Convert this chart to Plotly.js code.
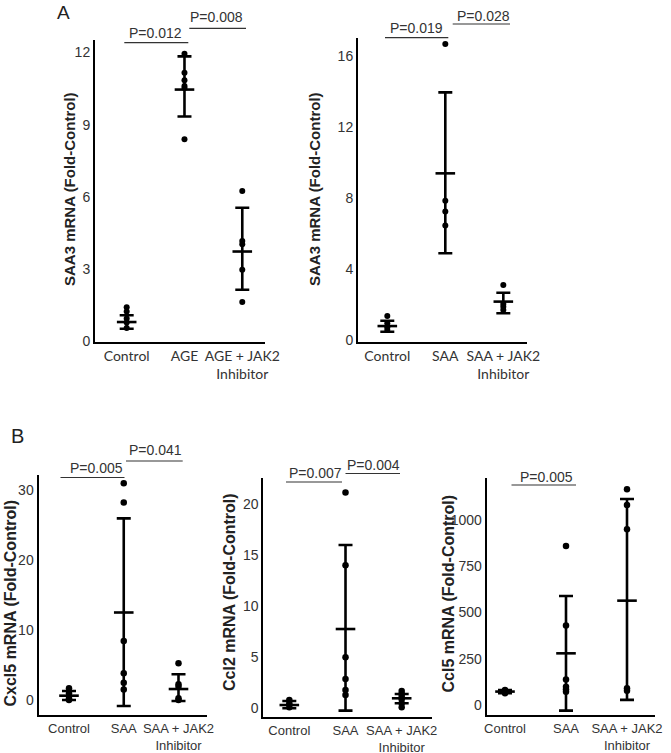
<!DOCTYPE html>
<html>
<head>
<meta charset="utf-8">
<script src="https://cdn.plot.ly/plotly-3.0.1.min.js"></script>
<style>html,body{margin:0;padding:0;background:#fff;}#chart{width:671px;height:753px;}</style>
</head>
<body>
<div id="chart"></div>
<script>
// ---------------- DATA ----------------
// Panel A (left): SAA3 mRNA, AGE
const a1Categories = ["Control", "AGE", "AGE + JAK2<br>Inhibitor"];
const a1Points = [[1.41, 1.24, 0.95, 0.78, 0.55], [11.95, 11.16, 10.85, 10.61, 10.53, 8.40], [6.24, 4.17, 4.03, 2.97, 1.63]];
const a1Mean = [0.80, 10.46, 3.73];
const a1Upper = [1.08, 11.84, 5.55];
const a1Lower = [0.52, 9.34, 2.14];
const a1Ticks = [0, 3, 6, 9, 12];
const a1Title = "SAA3 mRNA (Fold-Control)";
const a1P = ["P=0.012", "P=0.008"];

// Panel A (right): SAA3 mRNA, SAA
const a2Categories = ["Control", "SAA", "SAA + JAK2<br>Inhibitor"];
const a2Points = [[1.35, 0.94, 0.71, 0.56], [16.7, 7.86, 7.24, 6.45], [3.10, 2.03, 1.87, 1.69]];
const a2Mean = [0.78, 9.40, 2.16];
const a2Upper = [1.08, 13.97, 2.66];
const a2Lower = [0.46, 4.89, 1.50];
const a2Ticks = [0, 4, 8, 12, 16];
const a2Title = "SAA3 mRNA (Fold-Control)";
const a2P = ["P=0.019", "P=0.028"];

// Panel B: Cxcl5
const b1Categories = ["Control", "SAA", "SAA + JAK2<br>Inhibitor"];
const b1Points = [[1.67, 0.95, 0.24, 0.0], [30.95, 28.2, 8.43, 3.81, 2.48, 1.52], [5.24, 2.24, 1.9, 0.24, 0.0]];
const b1Mean = [0.62, 12.5, 1.57];
const b1Upper = [1.29, 25.95, 3.67];
const b1Lower = [0.0, -0.86, -0.14];
const b1Ticks = [0, 10, 20, 30];
const b1Title = "Cxcl5 mRNA (Fold-Control)";
const b1P = ["P=0.005", "P=0.041"];

// Panel B: Ccl2
const b2Categories = ["Control", "SAA", "SAA + JAK2<br>Inhibitor"];
const b2Points = [[0.80, 0.48, 0.09], [21.1, 14.0, 4.98, 2.86, 1.78, 1.29], [1.68, 1.39, 1.13, 0.87, 0.48, 0.09]];
const b2Mean = [0.31, 7.75, 0.97];
const b2Upper = [0.70, 15.97, 1.39];
const b2Lower = [0.0, -0.24, 0.48];
const b2Ticks = [0, 5, 10, 15, 20];
const b2Title = "Ccl2 mRNA (Fold-Control)";
const b2P = ["P=0.007", "P=0.004"];

// Panel B: Ccl5
const b3Categories = ["Control", "SAA", "SAA + JAK2<br>Inhibitor"];
const b3Points = [[80, 72, 63], [860, 429, 138, 98, 84, 71], [1167, 1082, 950, 90, 77]];
const b3Mean = [72, 279, 564];
const b3Upper = [80, 589, 1114];
const b3Lower = [63, -31, 27];
const b3Ticks = [0, 250, 500, 750, 1000];
const b3Title = "Ccl5 mRNA (Fold-Control)";
const b3P = ["P=0.005"];

const panelLabels = ["A", "B"];

// ---------------- LAYOUT HELPERS ----------------
const W = 671, H = 753;
const px = v => v / W;
const py = v => 1 - v / H;

const panels = [
  {cats: a1Categories, pts: a1Points, mean: a1Mean, up: a1Upper, lo: a1Lower, ticks: a1Ticks, title: a1Title, p: a1P,
   box: [95, 265, 40, 342], xr: [-0.548, 2.393], yr: [-0.03, 12.52], catFont: "Lato, 'Open Sans', sans-serif", catSize: 14,
   titlePos: [69, 189], titleSize: 15, dot: 6,
   brackets: [[124.3, 188.3, 42.7, 155, 33.3], [189.3, 246, 28.3, 216.7, 16.7]]},
  {cats: a2Categories, pts: a2Points, mean: a2Mean, up: a2Upper, lo: a2Lower, ticks: a2Ticks, title: a2Title, p: a2P,
   box: [358, 526.7, 38, 342], xr: [-0.505, 2.403], yr: [-0.12, 17.04], catFont: "Lato, 'Open Sans', sans-serif", catSize: 14,
   titlePos: [314, 189], titleSize: 15, dot: 6,
   brackets: [[385, 448.3, 37.7, 416, 28.3], [452.7, 510, 24, 483.3, 15.7]]},
  {cats: b1Categories, pts: b1Points, mean: b1Mean, up: b1Upper, lo: b1Lower, ticks: b1Ticks, title: b1Title, p: b1P,
   box: [38.5, 206.7, 475, 715], xr: [-0.557, 2.515], yr: [-2.14, 32.14], catFont: "'Liberation Sans', Arial, sans-serif", catSize: 13,
   titlePos: [9.5, 603], titleSize: 16, dot: 6.5,
   brackets: [[60.5, 124.5, 477.5, 96.7, 468.3], [126, 182.7, 461, 155, 450]]},
  {cats: b2Categories, pts: b2Points, mean: b2Mean, up: b2Upper, lo: b2Lower, ticks: b2Ticks, title: b2Title, p: b2P,
   box: [263.3, 431.7, 478.3, 717], xr: [-0.463, 2.534], yr: [-0.86, 22.5], catFont: "'Liberation Sans', Arial, sans-serif", catSize: 13,
   titlePos: [229, 592], titleSize: 16, dot: 6.5,
   brackets: [[286, 342, 482, 315, 472.5], [345.5, 400, 473.5, 373.3, 464.5]]},
  {cats: b3Categories, pts: b3Points, mean: b3Mean, up: b3Upper, lo: b3Lower, ticks: b3Ticks, title: b3Title, p: b3P,
   box: [486.7, 655, 478.3, 715], xr: [-0.3, 2.459], yr: [-54.7, 1226], catFont: "'Liberation Sans', Arial, sans-serif", catSize: 13,
   titlePos: [447.5, 594], titleSize: 16, dot: 6.5,
   brackets: [[511.5, 576, 485, 546.7, 476.5]]}
];

const traces = [];
const layout = {
  width: W, height: H,
  margin: {l: 0, r: 0, t: 0, b: 0},
  paper_bgcolor: "#ffffff", plot_bgcolor: "rgba(0,0,0,0)",
  showlegend: false,
  font: {family: "'Liberation Sans', Arial, sans-serif", color: "#333333", size: 14},
  shapes: [], annotations: []
};

panels.forEach((P, i) => {
  const n = i === 0 ? "" : String(i + 1);
  const xa = "x" + n, ya = "y" + n;
  // individual data points
  const xs = [], ys = [];
  P.pts.forEach((grp, g) => grp.forEach(v => { xs.push(g); ys.push(v); }));
  traces.push({
    type: "scatter", mode: "markers", x: xs, y: ys, xaxis: xa, yaxis: ya,
    marker: {color: "#000000", size: P.dot}, cliponaxis: false, hoverinfo: "y"
  });
  // mean +/- SD
  const gx = P.mean.map((_, g) => g);
  traces.push({
    type: "scatter", mode: "markers", x: gx, y: P.mean, xaxis: xa, yaxis: ya,
    marker: {symbol: "line-ew", size: 14, color: "#000000", line: {width: 2.6, color: "#000000"}},
    error_y: {type: "data", symmetric: false,
      array: P.up.map((u, g) => u - P.mean[g]),
      arrayminus: P.lo.map((l, g) => P.mean[g] - l),
      color: "#000000", thickness: 2.6, width: 7},
    cliponaxis: false, hoverinfo: "y"
  });
  const [x0, x1, yt, yb] = P.box;
  layout["xaxis" + n] = {
    domain: [px(x0), px(x1)], range: P.xr, anchor: ya,
    showline: true, linecolor: "#000000", linewidth: 2,
    showgrid: false, zeroline: false, ticks: "", tickangle: 0,
    tickmode: "array", tickvals: [0, 1, 2], ticktext: P.cats,
    tickfont: {family: P.catFont, size: P.catSize, color: "#333333"}
  };
  layout["yaxis" + n] = {
    domain: [py(yb), py(yt)], range: P.yr, anchor: xa,
    showline: true, linecolor: "#000000", linewidth: 2,
    showgrid: false, zeroline: false, ticks: "",
    tickmode: "array", tickvals: P.ticks, ticktext: P.ticks.map(String),
    tickfont: {family: "'Liberation Sans', Arial, sans-serif", size: 14, color: "#333333"}
  };
  // y title
  layout.annotations.push({
    xref: "paper", yref: "paper", x: px(P.titlePos[0]), y: py(P.titlePos[1]),
    xanchor: "center", yanchor: "middle", textangle: -90, showarrow: false,
    text: "<b>" + P.title + "</b>",
    font: {family: "'Liberation Sans', Arial, sans-serif", size: P.titleSize, color: "#222222"}
  });
  // significance brackets
  P.brackets.forEach((b, k) => {
    layout.shapes.push({type: "line", xref: "paper", yref: "paper",
      x0: px(b[0]), x1: px(b[1]), y0: py(b[2]), y1: py(b[2]),
      line: {color: "#333333", width: 1.2}});
    layout.annotations.push({xref: "paper", yref: "paper", x: px(b[3]), y: py(b[4]),
      xanchor: "center", yanchor: "middle", showarrow: false, text: P.p[k],
      font: {family: "'Liberation Sans', Arial, sans-serif", size: 14, color: "#333333"}});
  });
});

// panel letters
layout.annotations.push({xref: "paper", yref: "paper", x: px(63.5), y: py(13), xanchor: "center", yanchor: "middle",
  showarrow: false, text: panelLabels[0], font: {family: "'Liberation Sans', Arial, sans-serif", size: 19, color: "#222222"}});
layout.annotations.push({xref: "paper", yref: "paper", x: px(17.5), y: py(435.5), xanchor: "center", yanchor: "middle",
  showarrow: false, text: panelLabels[1], font: {family: "'Liberation Sans', Arial, sans-serif", size: 20, color: "#222222"}});

Plotly.newPlot("chart", traces, layout, {staticPlot: true, displayModeBar: false});
</script>
</body>
</html>
